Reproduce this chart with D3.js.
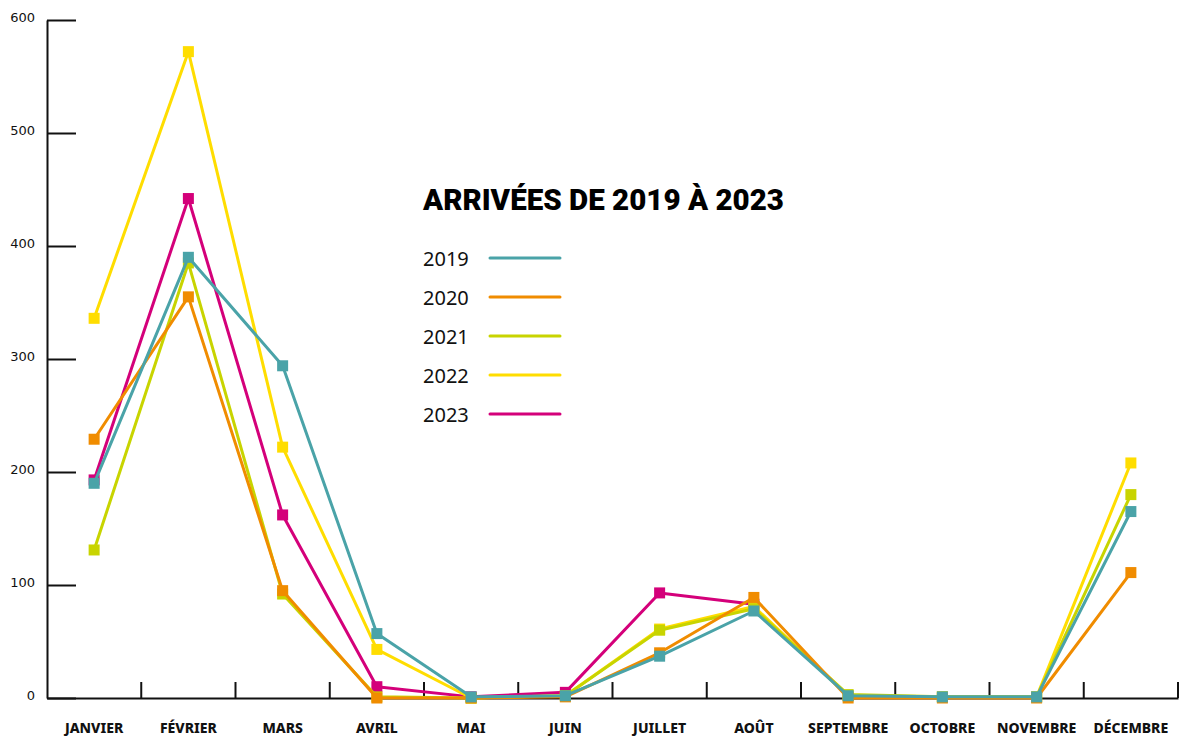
<!DOCTYPE html>
<html>
<head>
<meta charset="utf-8">
<script src="https://cdn.jsdelivr.net/npm/d3@7"></script>
<style>
  body { margin: 0; background: #fff; }
  svg { display: block; }
</style>
</head>
<body>
<div id="chart"></div>
<script>
const width = 1181;
const height = 738;

// données
const months = ["JANVIER", "FÉVRIER", "MARS", "AVRIL", "MAI", "JUIN", "JUILLET", "AOÛT", "SEPTEMBRE", "OCTOBRE", "NOVEMBRE", "DÉCEMBRE"];
const years = ["2019", "2020", "2021", "2022", "2023"];
const colors = ["#4aa3a8", "#f08c00", "#c8d400", "#ffdd00", "#d4007a"];
const v2019 = [190, 390, 294, 57, 1, 2, 37, 77, 2, 1, 1, 165];
const v2020 = [229, 355, 95, 0, 0, 1, 40, 89, 0, 0, 0, 111];
const v2021 = [131, 385, 92, 1, 0, 2, 60, 79, 3, 1, 1, 180];
const v2022 = [336, 572, 222, 43, 0, 2, 61, 81, 2, 1, 1, 208];
const v2023 = [193, 442, 162, 10, 1, 5, 93, 83, null, null, null, null];
const yTicks = [0, 100, 200, 300, 400, 500, 600];
const title = "ARRIVÉES DE 2019 À 2023";

const series = [v2019, v2020, v2021, v2022, v2023];

const svg = d3.select("#chart")
    .append("svg")
    .attr("width", width)
    .attr("height", height);

const x = d3.scaleBand()
    .domain(months)
    .range([47, 1178])
    .padding(0);

const y = d3.scaleLinear()
    .domain([0, 600])
    .range([698, 20]);

// axe Y
const yAxis = svg.append("g")
    .attr("transform", "translate(47,0)")
    .call(d3.axisLeft(y).tickValues(yTicks).tickSize(-29).tickSizeOuter(0).tickPadding(12));

yAxis.select(".domain").attr("stroke", "#111").attr("stroke-width", 2);
yAxis.selectAll(".tick line").attr("stroke", "#111").attr("stroke-width", 2);
yAxis.selectAll(".tick text")
    .attr("font-family", "DejaVu Sans")
    .attr("font-size", 13)
    .attr("fill", "#111")
    .attr("dy", "0.1em");

// axe X
const xAxis = svg.append("g")
    .attr("transform", "translate(0,698)")
    .call(d3.axisBottom(x).tickSize(0).tickSizeOuter(0).tickPadding(25));

xAxis.select(".domain").attr("stroke", "#111").attr("stroke-width", 2);
xAxis.selectAll(".tick text")
    .attr("font-family", "Noto Sans")
    .attr("font-weight", 800)
    .attr("font-size", 14)
    .attr("fill", "#111");

// séparateurs des mois
xAxis.selectAll(".sep")
    .data(months)
    .enter()
    .append("line")
    .attr("x1", d => x(d) + x.bandwidth())
    .attr("x2", d => x(d) + x.bandwidth())
    .attr("y1", 0)
    .attr("y2", -16)
    .attr("stroke", "#111")
    .attr("stroke-width", 2);

// lignes (2023 en dessous, 2019 au-dessus)
const line = d3.line()
    .defined(d => d != null)
    .x((d, i) => x(months[i]) + x.bandwidth() / 2)
    .y(d => y(d));

const order = [4, 3, 2, 1, 0];

order.forEach(k => {
    const vals = series[k];
    const g = svg.append("g");

    g.append("path")
        .datum(vals)
        .attr("fill", "none")
        .attr("stroke", colors[k])
        .attr("stroke-width", 3)
        .attr("stroke-linejoin", "round")
        .attr("d", line);

    g.selectAll("rect")
        .data(vals.map((v, i) => ({ v, i })).filter(d => d.v != null))
        .enter()
        .append("rect")
        .attr("x", d => x(months[d.i]) + x.bandwidth() / 2 - 5.5)
        .attr("y", d => y(d.v) - 5.5)
        .attr("width", 11)
        .attr("height", 11)
        .attr("fill", colors[k]);
});

// titre
svg.append("text")
    .attr("x", 423)
    .attr("y", 210)
    .attr("font-family", "Roboto")
    .attr("font-weight", 900)
    .attr("font-size", 30)
    .attr("textLength", 361)
    .attr("lengthAdjust", "spacingAndGlyphs")
    .attr("fill", "#000")
    .text(title);

// légende
const legend = svg.selectAll(".legend")
    .data(years)
    .enter()
    .append("g")
    .attr("transform", (d, i) => `translate(423,${258 + i * 39})`);

legend.append("text")
    .attr("dominant-baseline", "central")
    .attr("font-family", "Noto Sans")
    .attr("font-size", 20)
    .attr("fill", "#111")
    .text(d => d);

legend.append("line")
    .attr("x1", 67)
    .attr("x2", 137)
    .attr("stroke", (d, i) => colors[i])
    .attr("stroke-width", 3)
    .attr("stroke-linecap", "round");
</script>
</body>
</html>
